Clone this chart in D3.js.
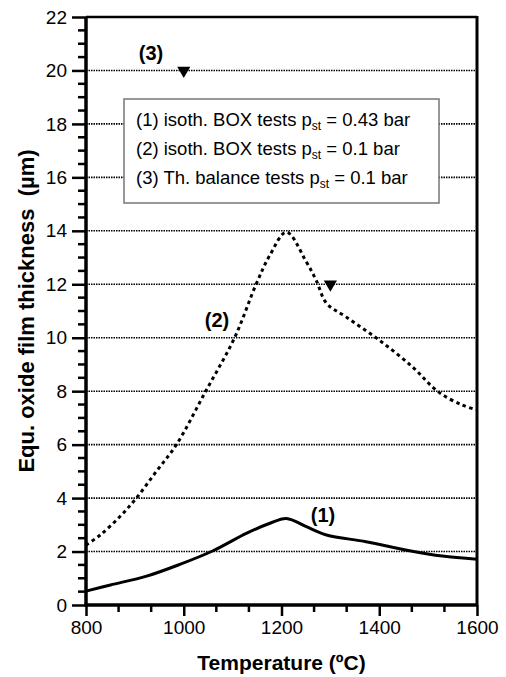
<!DOCTYPE html>
<html>
<head>
<meta charset="utf-8">
<script src="https://cdn.jsdelivr.net/npm/d3@7"></script>
<style>
    body { margin: 0; background: #fff; }
    svg { display: block; font-family: Arial, "Liberation Sans", sans-serif; }
</style>
</head>
<body>
<script>
// (1) isoth. BOX tests, pst = 0.43 bar  (solid line)
var temp1 = [800, 850, 924, 992, 1060, 1128, 1175, 1210, 1251, 1292, 1373, 1462, 1529, 1600];
var thick1 = [0.52, 0.75, 1.08, 1.52, 2.03, 2.68, 3.05, 3.24, 2.93, 2.62, 2.37, 2.03, 1.83, 1.71];

// (2) isoth. BOX tests, pst = 0.1 bar  (dotted line)
var temp2 = [800, 829, 869, 903, 944, 985, 1045, 1104, 1148, 1176, 1210, 1251, 1271, 1292, 1332, 1400, 1468, 1519, 1570, 1600];
var thick2 = [2.24, 2.62, 3.30, 4.0, 5.0, 6.0, 8.0, 10.0, 12.0, 13.08, 13.95, 12.83, 12.15, 11.29, 10.78, 9.91, 8.91, 8.0, 7.48, 7.3];

// (3) Th. balance tests, pst = 0.1 bar  (triangles)
var temp3 = [1000, 1300];
var thick3 = [20, 12];

// curve labels
var labelText = ["(1)", "(2)", "(3)"];
var labelTemp = [1260, 1043, 908];
var labelThick = [3.1, 10.4, 20.4];

var legendLines = [
    ["(1) isoth. BOX tests p", "st", " = 0.43 bar"],
    ["(2) isoth. BOX tests p", "st", " = 0.1 bar"],
    ["(3) Th. balance tests p", "st", " = 0.1 bar"]
];

var yMajor = d3.range(0, 23, 2);
var yMinor = d3.range(1, 44).filter(function(i) { return i % 4 != 0; })
    .map(function(i) { return i * 0.5; });
var yGrid = d3.range(2, 21, 2);
var xMajor = [800, 1000, 1200, 1400, 1600];
var xMinor = d3.range(0, 13).filter(function(i) { return i % 3 != 0; })
    .map(function(i) { return 800 + i * 200 / 3; });

// dimensions and margins
var margin = { top: 17, right: 29, bottom: 72, left: 86 },
    width = 506 - margin.left - margin.right,
    height = 677 - margin.top - margin.bottom;

var svg = d3.select("body").append("svg")
    .attr("width", 506)
    .attr("height", 677),
    g = svg.append("g")
    .attr("transform", "translate(" + margin.left + "," + margin.top + ")");

var x = d3.scaleLinear().domain([800, 1600]).range([0, width]);
var y = d3.scaleLinear().domain([0, 22]).range([height, 0]);

// dotted grid lines
g.selectAll(".grid")
    .data(yGrid)
    .enter().append("line")
    .attr("class", "grid")
    .attr("x1", 0)
    .attr("x2", width)
    .attr("y1", function(d) { return y(d); })
    .attr("y2", function(d) { return y(d); })
    .attr("stroke", "#000")
    .attr("stroke-width", 1.6)
    .attr("stroke-dasharray", "1.5,1");

// legend box (covers grid)
var legend = g.append("g")
    .attr("transform", "translate(" + (124 - margin.left) + "," + (99 - margin.top) + ")");

legend.append("rect")
    .attr("width", 315)
    .attr("height", 104)
    .attr("fill", "#fff")
    .attr("stroke", "#777")
    .attr("stroke-width", 1.5);

legendLines.forEach(function(parts, i) {
    var t = legend.append("text")
        .attr("x", 12)
        .attr("y", 27 + i * 29)
        .style("font-size", "18.5px")
        .style("fill", "#000");
    t.append("tspan").text(parts[0]);
    t.append("tspan").attr("dy", 4).style("font-size", "12px").text(parts[1]);
    t.append("tspan").attr("dy", -4).text(parts[2]);
});

// curves
var line = d3.line()
    .x(function(d) { return x(d[0]); })
    .y(function(d) { return y(d[1]); })
    .curve(d3.curveCatmullRom.alpha(0.5));

g.append("path")
    .datum(d3.zip(temp1, thick1))
    .attr("d", line)
    .attr("fill", "none")
    .attr("stroke", "#000")
    .attr("stroke-width", 3);

g.append("path")
    .datum(d3.zip(temp2, thick2))
    .attr("d", line)
    .attr("fill", "none")
    .attr("stroke", "#000")
    .attr("stroke-width", 3)
    .attr("stroke-dasharray", "3.5,3.5");

// triangle markers
g.selectAll(".marker")
    .data(d3.zip(temp3, thick3))
    .enter().append("path")
    .attr("class", "marker")
    .attr("d", d3.symbol().type(d3.symbolTriangle).size(75))
    .attr("transform", function(d) {
        return "translate(" + x(d[0]) + "," + y(d[1]) + ") rotate(180)";
    })
    .attr("fill", "#000");

// curve labels
g.selectAll(".clabel")
    .data(labelText)
    .enter().append("text")
    .attr("class", "clabel")
    .attr("x", function(d, i) { return x(labelTemp[i]); })
    .attr("y", function(d, i) { return y(labelThick[i]); })
    .style("font-size", "20px")
    .style("font-weight", "bold")
    .text(function(d) { return d; });

// minor ticks drawn as plain lines
g.selectAll(".yminor")
    .data(yMinor)
    .enter().append("line")
    .attr("class", "yminor")
    .attr("x1", -8).attr("x2", 0)
    .attr("y1", function(d) { return y(d); })
    .attr("y2", function(d) { return y(d); })
    .attr("stroke", "#000")
    .attr("stroke-width", 2.5);

g.selectAll(".xminor")
    .data(xMinor)
    .enter().append("line")
    .attr("class", "xminor")
    .attr("x1", function(d) { return x(d); })
    .attr("x2", function(d) { return x(d); })
    .attr("y1", height).attr("y2", height + 7)
    .attr("stroke", "#000")
    .attr("stroke-width", 2.5);

// major ticks and labels
function styleTicks(a) {
    a.select(".domain").remove();
    a.selectAll(".tick line").attr("stroke", "#000").attr("stroke-width", 2.5);
    a.selectAll(".tick text")
        .style("font-family", "Arial, 'Liberation Sans', sans-serif")
        .style("font-size", "19px")
        .attr("fill", "#000");
}

g.append("g")
    .call(d3.axisLeft(y).tickValues(yMajor).tickSize(14).tickPadding(5).tickFormat(d3.format("d")))
    .call(styleTicks);

g.append("g")
    .attr("transform", "translate(0," + height + ")")
    .call(d3.axisBottom(x).tickValues(xMajor).tickSize(11).tickPadding(5).tickFormat(d3.format("d")))
    .call(styleTicks);

// frame: left and bottom axis lines, top and right border
g.append("line")
    .attr("x1", 0).attr("x2", 0).attr("y1", 0).attr("y2", height + 1.5)
    .attr("stroke", "#000").attr("stroke-width", 3.5);
g.append("line")
    .attr("x1", -1.5).attr("x2", width).attr("y1", height).attr("y2", height)
    .attr("stroke", "#000").attr("stroke-width", 3.5);
g.append("line")
    .attr("x1", 0).attr("x2", width).attr("y1", 0).attr("y2", 0)
    .attr("stroke", "#000").attr("stroke-width", 2.5);
g.append("line")
    .attr("x1", width).attr("x2", width).attr("y1", -1).attr("y2", height)
    .attr("stroke", "#000").attr("stroke-width", 3);

// axis titles
svg.append("text")
    .attr("x", margin.left + width / 2)
    .attr("y", 670)
    .attr("text-anchor", "middle")
    .style("font-size", "21px")
    .style("font-weight", "bold")
    .text("Temperature (ºC)");

svg.append("text")
    .attr("transform", "translate(34," + (margin.top + height / 2) + ") rotate(-90)")
    .attr("text-anchor", "middle")
    .style("font-size", "22px")
    .style("font-weight", "bold")
    .style("white-space", "pre")
    .text("Equ. oxide film thickness  (µm)");
</script>
</body>
</html>
